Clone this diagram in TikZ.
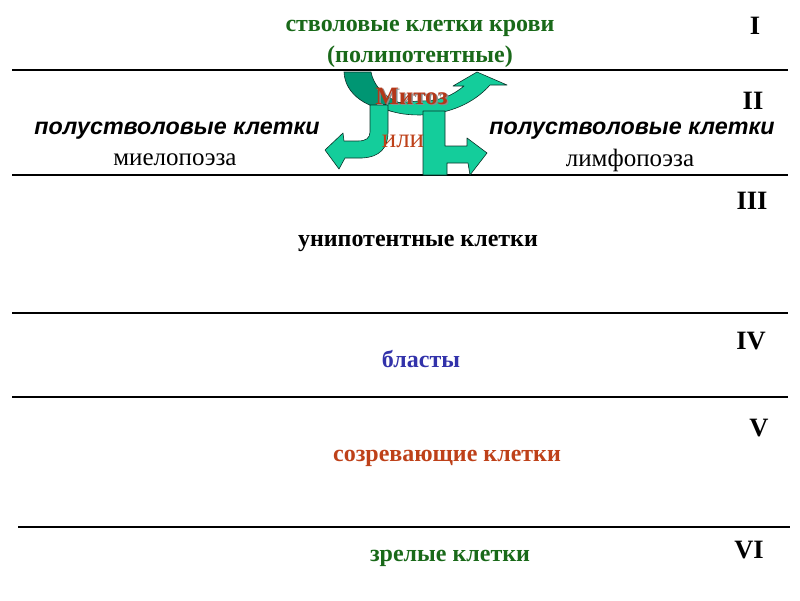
\documentclass[tikz,border=0pt]{standalone}
\usepackage{fontspec}
\setmainfont{Liberation Serif}
\newfontfamily\arialfont{Liberation Sans}
\definecolor{stemgreen}{RGB}{25,105,25}
\definecolor{blastblue}{RGB}{50,50,170}
\definecolor{matured}{RGB}{190,65,25}
\definecolor{mitosred}{RGB}{180,55,25}
\definecolor{arrowlight}{RGB}{20,205,155}
\definecolor{arrowdark}{RGB}{0,150,115}
\definecolor{arrowline}{RGB}{10,50,40}

\begin{document}
\begin{tikzpicture}[x=1pt,y=-1pt,
  stageline/.style={line width=1.3pt},
  romannum/.style={font=\fontsize{26.5}{30}\selectfont\bfseries},
  celltext/.style={font=\fontsize{24}{28}\selectfont\bfseries},
  semistem/.style={font=\arialfont\fontsize{23.3}{27}\selectfont\bfseries\itshape},
  poez/.style={font=\fontsize{25}{29}\selectfont},
  bigarrow/.style={fill=arrowlight,draw=arrowline,line width=0.6pt,line join=round}]
\useasboundingbox (0,0) rectangle (800,600);

\draw[stageline] (12,70) -- (788,70);
\draw[stageline] (12,175) -- (788,175);
\draw[stageline] (12,313) -- (788,313);
\draw[stageline] (12,397) -- (788,397);
\draw[stageline] (18,527) -- (790,527);

\node[romannum] (r1) at (755,26) {I};
\node[romannum] (r2) at (753,101) {II};
\node[romannum] (r3) at (752,201) {III};
\node[romannum] (r4) at (751,341) {IV};
\node[romannum] (r5) at (759,428) {V};
\node[romannum] (r6) at (749,550) {VI};

\node[celltext,text=stemgreen] (stem) at (420,28) {стволовые клетки крови};
\node[celltext,text=stemgreen] (poly) at (420,57) {(полипотентные)};

% curved arrow of mitosis
\fill[arrowdark,draw=arrowline,line width=0.6pt] (344,72) .. controls (345,95) and (368,110) .. (400,112)
  -- (424,110) .. controls (400,105) and (376,96) .. (371,72) -- cycle;
\path[bigarrow] (378,106) .. controls (392,113) and (405,115) .. (420,115)
  .. controls (450,114) and (474,103) .. (490,85) -- (507,85) -- (477,72) -- (453,86) -- (464,86)
  .. controls (452,96) and (440,101) .. (420,101) .. controls (405,102) and (390,103) .. (378,106) -- cycle;

\path[bigarrow] (370,105) -- (370,132) .. controls (370,138) and (366,141) .. (358,141) -- (344,141)
  -- (343,133) -- (325,150) -- (339,169) -- (345,158) -- (362,158)
  .. controls (380,157) and (388,148) .. (388,132) -- (388,105) -- cycle;
\path[bigarrow] (423,111) -- (423,175) -- (447,175) -- (447,163) -- (468,163) -- (470,175)
  -- (487,153) -- (467,138) -- (467,146) -- (445,146) -- (445,111) -- cycle;

\node[font=\fontsize{25}{29}\selectfont\bfseries,text=black!45] (mitshadow) at (413,97.5) {Митоз};
\node[font=\fontsize{25}{29}\selectfont\bfseries,text=mitosred] (mitosis) at (411.5,96) {Митоз};
\node[font=\fontsize{27}{31}\selectfont,text=matured] (or) at (403,141) {или};

\node[semistem] (semileft) at (177,131) {полустволовые клетки};
\node[semistem] (semiright) at (632,131) {полустволовые клетки};
\node[poez] (myelo) at (175,160) {миелопоэза};
\node[poez] (lympho) at (630,160) {лимфопоэза};

\node[celltext] (uni) at (418,243) {унипотентные клетки};
\node[celltext,text=blastblue] (blast) at (421,359) {бласты};
\node[celltext,text=matured] (mature) at (447,458) {созревающие клетки};
\node[celltext,text=stemgreen] (ripe) at (450,558) {зрелые клетки};
\end{tikzpicture}
\end{document}
